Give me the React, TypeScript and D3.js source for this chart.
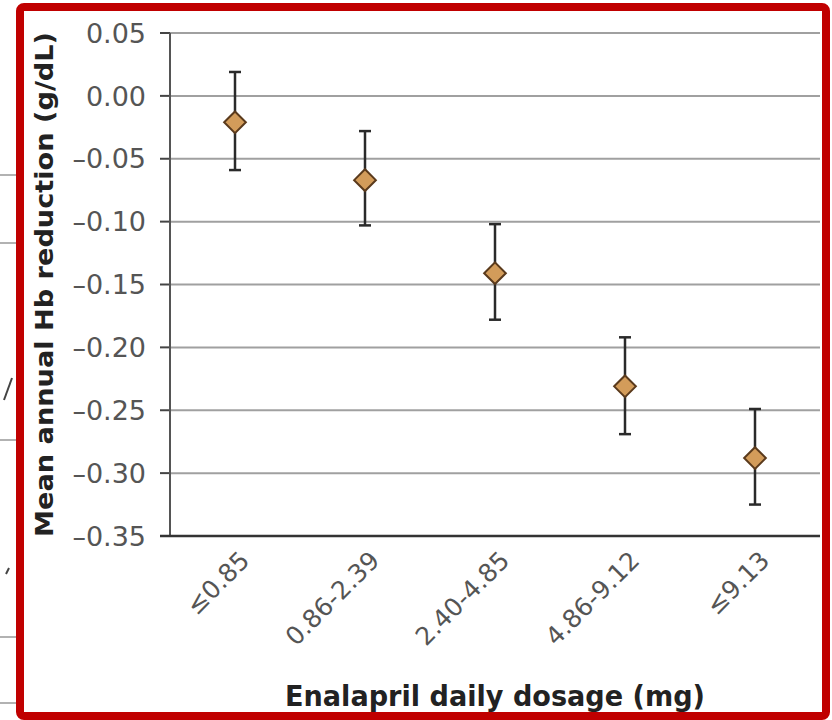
import React from "react";
import * as d3 from "d3";

const categories = ["≤0.85", "0.86-2.39", "2.40-4.85", "4.86-9.12", "≤9.13"];
const means = [-0.021, -0.067, -0.141, -0.231, -0.288];
const lower = [-0.059, -0.103, -0.178, -0.269, -0.325];
const upper = [0.019, -0.028, -0.102, -0.192, -0.249];
const yTicks = [0.05, 0.0, -0.05, -0.1, -0.15, -0.2, -0.25, -0.3, -0.35];
const fragmentLines = [175, 243, 440, 637, 703];

const W = 832;
const H = 720;

export default function App() {
  const x = d3.scaleBand<string>().domain(categories).range([170, 820]);
  const y = d3.scaleLinear().domain([-0.35, 0.05]).range([536, 33]);
  const fmt = (v: number) => {
    const s = d3.format(".2f")(Math.abs(v));
    return v < -1e-9 ? "–" + s : s;
  };
  const cx = (c: string) => (x(c) as number) + x.bandwidth() / 2;
  const diamond = d3.symbol().type(d3.symbolDiamond2).size(300);
  const tickFont = "'DejaVu Sans', sans-serif";
  const boldFont = "'DejaVu Sans', sans-serif";

  return (
    <svg
      width={W}
      height={H}
      style={{ position: "absolute", left: 0, top: 0, background: "#fff" }}
    >
      <rect x={0} y={0} width={W} height={H} fill="#fff" />
      {/* fragment of neighbouring chart on the far left */}
      {fragmentLines.map((ly, i) => (
        <line key={i} x1={0} x2={16} y1={ly} y2={ly} stroke="#999" strokeWidth={1.5} />
      ))}
      <line x1={4} y1={400} x2={12} y2={378} stroke="#444" strokeWidth={2} />
      <line x1={6} y1={574} x2={9} y2={568} stroke="#444" strokeWidth={2} />

      {/* gridlines */}
      {yTicks.slice(0, -1).map((t, i) => (
        <line key={i} x1={170} x2={820} y1={y(t)} y2={y(t)} stroke="#a0a0a0" strokeWidth={2} />
      ))}
      {/* y ticks */}
      {yTicks.map((t, i) => (
        <line key={"t" + i} x1={160} x2={170} y1={y(t)} y2={y(t)} stroke="#444" strokeWidth={2} />
      ))}
      {/* axes */}
      <line x1={170} x2={170} y1={y(0.05)} y2={y(-0.35)} stroke="#555" strokeWidth={2} />
      <line x1={160} x2={820} y1={y(-0.35)} y2={y(-0.35)} stroke="#333" strokeWidth={2.5} />

      {/* y tick labels */}
      {yTicks.map((t, i) => (
        <text
          key={"l" + i}
          x={146}
          y={y(t)}
          dy="0.36em"
          textAnchor="end"
          fontFamily={tickFont}
          fontSize={27}
          fill="#555"
        >
          {fmt(t)}
        </text>
      ))}

      {/* x tick labels */}
      {categories.map((c, i) => (
        <text
          key={"x" + i}
          transform={`translate(${cx(c) + 16},${562}) rotate(-45)`}
          textAnchor="end"
          fontFamily={tickFont}
          fontSize={25}
          fill="#555"
        >
          {c}
        </text>
      ))}

      {/* error bars */}
      {categories.map((c, i) => (
        <g key={"e" + i} stroke="#2a2a2a" strokeWidth={2.5}>
          <line x1={cx(c)} x2={cx(c)} y1={y(upper[i])} y2={y(lower[i])} />
          <line x1={cx(c) - 6} x2={cx(c) + 6} y1={y(upper[i])} y2={y(upper[i])} />
          <line x1={cx(c) - 6} x2={cx(c) + 6} y1={y(lower[i])} y2={y(lower[i])} />
        </g>
      ))}
      {/* diamonds */}
      {categories.map((c, i) => (
        <path
          key={"d" + i}
          d={diamond() as string}
          transform={`translate(${cx(c)},${y(means[i])})`}
          fill="#d39c5a"
          stroke="#5a3a1c"
          strokeWidth={2}
        />
      ))}

      {/* axis titles */}
      <text
        transform={`translate(53,${(33 + 536) / 2}) rotate(-90)`}
        textAnchor="middle"
        fontFamily={boldFont}
        fontWeight="bold"
        fontSize={24}
        fill="#222"
        textLength={505}
        lengthAdjust="spacingAndGlyphs"
      >
        Mean annual Hb reduction (g/dL)
      </text>
      <text
        x={495}
        y={706}
        textAnchor="middle"
        fontFamily={boldFont}
        fontWeight="bold"
        fontSize={28}
        fill="#222"
        textLength={420}
        lengthAdjust="spacingAndGlyphs"
      >
        Enalapril daily dosage (mg)
      </text>

      {/* red frame */}
      <rect
        x={20}
        y={7}
        width={806}
        height={709}
        rx={4}
        fill="none"
        stroke="#c00000"
        strokeWidth={8}
      />
    </svg>
  );
}
